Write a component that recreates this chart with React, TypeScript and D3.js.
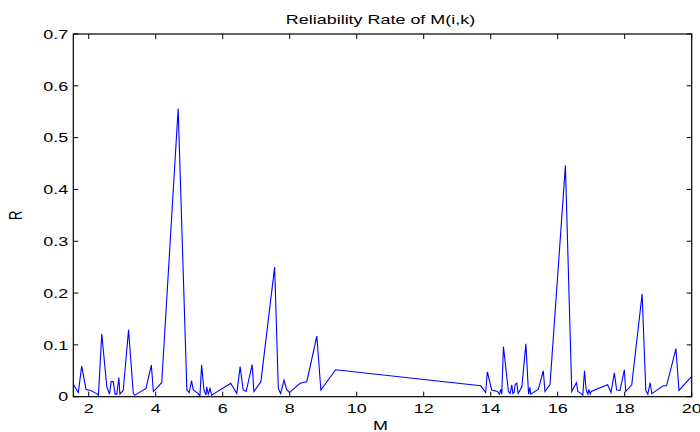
import React from "react";
import * as d3 from "d3";

const mValues: number[] = [
  1.54, 1.69, 1.79, 1.92, 2.06, 2.24, 2.29, 2.39, 2.54, 2.62, 2.67, 2.73, 2.79, 2.84, 2.9, 2.93, 3.03, 3.19, 3.33, 3.38,
  3.71, 3.87, 3.93, 4.18, 4.67, 4.93, 5.0, 5.07, 5.12, 5.27, 5.32, 5.37, 5.44, 5.5, 5.52, 5.57, 5.62, 5.67, 6.24, 6.42,
  6.52, 6.61, 6.7, 6.88, 6.93, 7.14, 7.55, 7.66, 7.73, 7.83, 7.91, 7.99, 8.31, 8.51, 8.81, 8.93, 9.37, 13.7, 13.85, 13.9,
  14.03, 14.2, 14.26, 14.3, 14.33, 14.38, 14.53, 14.58, 14.63, 14.66, 14.7, 14.73, 14.78, 14.82, 14.93, 15.05, 15.13, 15.17, 15.19, 15.42,
  15.57, 15.62, 15.77, 16.23, 16.42, 16.56, 16.6, 16.7, 16.75, 16.8, 16.85, 16.9, 16.93, 16.97, 17.0, 17.49, 17.59, 17.69, 17.76, 17.86,
  17.99, 18.03, 18.21, 18.52, 18.63, 18.69, 18.76, 18.81, 19.15, 19.25, 19.53, 19.62, 20.0,
];

const rValues: number[] = [
  0.024, 0.008, 0.059, 0.014, 0.012, 0.006, 0.003, 0.121, 0.019, 0.005, 0.029, 0.029, 0.005, 0.005, 0.037, 0.005, 0.012, 0.129, 0.006, 0.003,
  0.016, 0.061, 0.01, 0.027, 0.556, 0.013, 0.008, 0.031, 0.013, 0.006, 0.001, 0.061, 0.013, 0.003, 0.019, 0.005, 0.016, 0.003, 0.026, 0.006,
  0.058, 0.013, 0.01, 0.062, 0.01, 0.029, 0.25, 0.016, 0.006, 0.032, 0.014, 0.008, 0.026, 0.029, 0.117, 0.013, 0.052, 0.021, 0.008, 0.048,
  0.013, 0.01, 0.005, 0.014, 0.005, 0.097, 0.01, 0.006, 0.023, 0.006, 0.008, 0.024, 0.026, 0.006, 0.019, 0.102, 0.005, 0.018, 0.005, 0.014,
  0.05, 0.01, 0.023, 0.446, 0.01, 0.027, 0.01, 0.006, 0.003, 0.05, 0.013, 0.005, 0.014, 0.005, 0.01, 0.023, 0.008, 0.046, 0.013, 0.012,
  0.052, 0.01, 0.023, 0.198, 0.012, 0.005, 0.027, 0.006, 0.021, 0.021, 0.093, 0.012, 0.039,
];

const xTicks: number[] = [2, 4, 6, 8, 10, 12, 14, 16, 18, 20];
const yTicks: number[] = [0, 0.1, 0.2, 0.3, 0.4, 0.5, 0.6, 0.7];
const titleText = "Reliability Rate of M(i,k)";
const xLabel = "M";
const yLabel = "R";

export default function App() {
  const W = 700;
  const H = 432;
  const left = 73.3;
  const right = 691.7;
  const top = 34;
  const bottom = 396.7;
  const x = d3.scaleLinear().domain([1.54, 20]).range([left, right]);
  const y = d3.scaleLinear().domain([0, 0.7]).range([bottom, top]);
  const pts: [number, number][] = mValues.map((m, i) => [m, rValues[i]]);
  const line = d3
    .line<[number, number]>()
    .x((d) => x(d[0]))
    .y((d) => y(d[1]));
  const font = "'Liberation Sans', Arial, Helvetica, sans-serif";
  const tl = 5;
  const sx = 1.38;
  const fs = 13;
  const fmtY = (v: number) => (v === 0 ? "0" : d3.format(".1f")(v));

  return (
    <svg
      width={W}
      height={H}
      style={{ position: "absolute", left: 0, top: 0, background: "#fff" }}
    >
      <rect x={0} y={0} width={W} height={H} fill="#fff" />
      <path d={line(pts) || ""} fill="none" stroke="#0000ff" strokeWidth={1.1} />
      <rect x={left} y={top} width={right - left} height={bottom - top} fill="none" stroke="#000" strokeWidth={1.2} />
      {xTicks.map((t) => (
        <g key={"xt" + t}>
          <line x1={x(t)} x2={x(t)} y1={bottom} y2={bottom - tl} stroke="#000" />
          <line x1={x(t)} x2={x(t)} y1={top} y2={top + tl} stroke="#000" />
          <g transform={`translate(${x(t)},412.5) scale(${sx},1)`}>
            <text textAnchor="middle" fontFamily={font} fontSize={fs} fill="#000">
              {t}
            </text>
          </g>
        </g>
      ))}
      {yTicks.map((t) => (
        <g key={"yt" + t}>
          <line x1={left} x2={left + tl} y1={y(t)} y2={y(t)} stroke="#000" />
          <line x1={right} x2={right - tl} y1={y(t)} y2={y(t)} stroke="#000" />
          <g transform={`translate(${left - 5},${y(t) + 4.7}) scale(${sx},1)`}>
            <text textAnchor="end" fontFamily={font} fontSize={fs} fill="#000">
              {fmtY(t)}
            </text>
          </g>
        </g>
      ))}
      <g transform={`translate(${(left + right) / 2 - 2},24) scale(${sx},1)`}>
        <text textAnchor="middle" fontFamily={font} fontSize={fs} fill="#000">
          {titleText}
        </text>
      </g>
      <g transform={`translate(${(left + right) / 2 - 2},429.5) scale(${sx},1)`}>
        <text textAnchor="middle" fontFamily={font} fontSize={fs} fill="#000">
          {xLabel}
        </text>
      </g>
      <g transform={`translate(21.5,${(top + bottom) / 2}) rotate(-90) scale(1,${sx})`}>
        <text textAnchor="middle" fontFamily={font} fontSize={fs} fill="#000">
          {yLabel}
        </text>
      </g>
    </svg>
  );
}
